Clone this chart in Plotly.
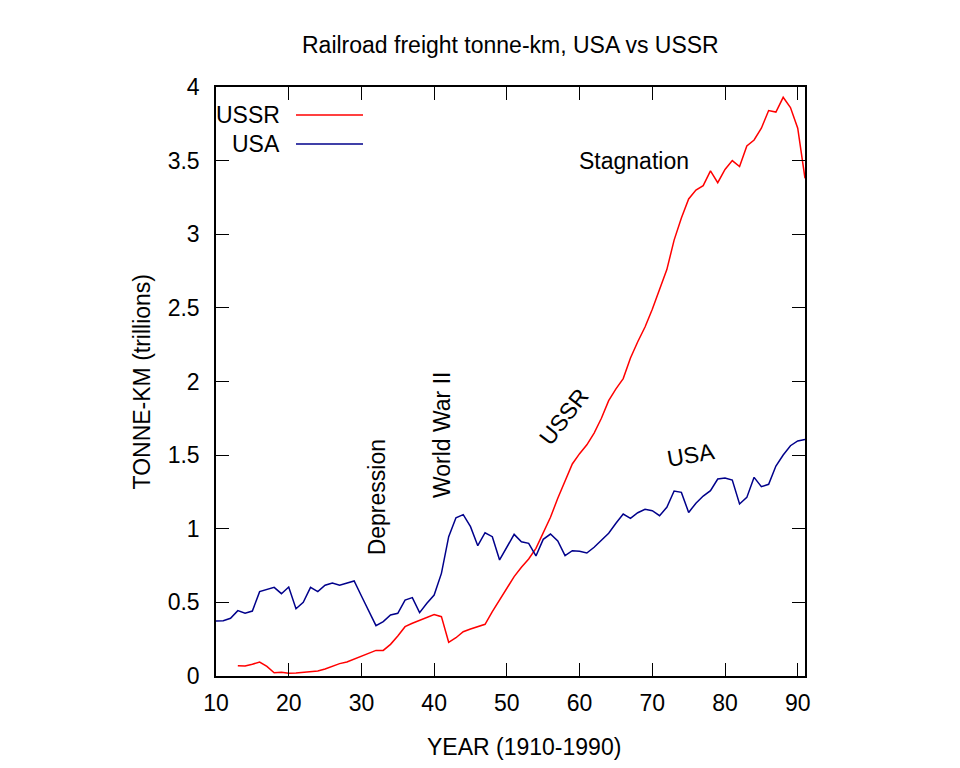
import plotly.graph_objects as go

# Years are given as two-digit offsets from 1900
usa_years = list(range(10, 92))
usa_values = [
    0.374, 0.376, 0.392, 0.444, 0.426, 0.441, 0.573, 0.589, 0.602, 0.559,
    0.604, 0.457, 0.500, 0.602, 0.573, 0.616, 0.632, 0.616, 0.632, 0.645,
    0.543, 0.444, 0.342, 0.369, 0.414, 0.426, 0.516, 0.532, 0.430, 0.494,
    0.550, 0.697, 0.946, 1.075, 1.096, 1.014, 0.885, 0.973, 0.946, 0.788,
    0.878, 0.962, 0.912, 0.901, 0.815, 0.928, 0.964, 0.917, 0.817, 0.851,
    0.847, 0.835, 0.874, 0.919, 0.969, 1.037, 1.100, 1.071, 1.109, 1.132,
    1.123, 1.089, 1.146, 1.256, 1.247, 1.111, 1.173, 1.222, 1.259, 1.338,
    1.345, 1.331, 1.168, 1.213, 1.349, 1.286, 1.302, 1.426, 1.501, 1.564,
    1.596, 1.607,
]

ussr_years = list(range(13, 92))
ussr_values = [
    0.070, 0.068, 0.080, 0.095, 0.065, 0.022, 0.025, 0.018, 0.020, 0.023,
    0.027, 0.034, 0.048, 0.068, 0.084, 0.095, 0.115, 0.136, 0.156, 0.174,
    0.174, 0.215, 0.272, 0.335, 0.358, 0.376, 0.396, 0.417, 0.403, 0.229,
    0.260, 0.301, 0.319, 0.335, 0.351, 0.437, 0.516, 0.600, 0.675, 0.738,
    0.795, 0.867, 0.973, 1.078, 1.207, 1.320, 1.440, 1.510, 1.570, 1.650,
    1.750, 1.870, 1.950, 2.020, 2.160, 2.270, 2.370, 2.490, 2.630, 2.760,
    2.960, 3.110, 3.240, 3.300, 3.330, 3.430, 3.350, 3.440, 3.500, 3.460,
    3.600, 3.640, 3.720, 3.840, 3.830, 3.930, 3.860, 3.720, 3.380,
]

x_ticks = [10, 20, 30, 40, 50, 60, 70, 80, 90]
y_ticks = [0, 0.5, 1, 1.5, 2, 2.5, 3, 3.5, 4]
y_tick_labels = ["0", "0.5", "1", "1.5", "2", "2.5", "3", "3.5", "4"]

RED = "#ff0000"
BLUE = "#00008b"
FONT = "Liberation Sans, Arial, sans-serif"
FS = 23

fig = go.Figure()
fig.add_trace(go.Scatter(x=ussr_years, y=ussr_values, mode="lines",
                         line=dict(color=RED, width=1.5), name="USSR"))
fig.add_trace(go.Scatter(x=usa_years, y=usa_values, mode="lines",
                         line=dict(color=BLUE, width=1.5), name="USA"))

axis_common = dict(
    showgrid=False, zeroline=False, showline=True, linecolor="black",
    linewidth=1.5, mirror="allticks", ticks="inside", ticklen=13,
    tickwidth=1.2, tickcolor="black",
    tickfont=dict(family=FONT, size=FS, color="black"),
)

fig.update_xaxes(range=[10, 91], tickvals=x_ticks,
                 ticktext=[str(t) for t in x_ticks],
                 ticklabelstandoff=6, **axis_common)
fig.update_yaxes(range=[0, 4], tickvals=y_ticks, ticktext=y_tick_labels,
                 ticklabelstandoff=10, **axis_common)

def ann(text, x, y, **kw):
    d = dict(text=text, x=x, y=y, showarrow=False, xanchor="center",
             yanchor="middle", font=dict(size=FS))
    d.update(kw)
    return d

annotations = [
    ann("Railroad freight tonne-km, USA vs USSR", 0.5, 1, xref="paper", yref="paper", yshift=42),
    ann("YEAR (1910-1990)", 0.5, 0, xref="paper", yref="paper", yshift=-71, xshift=13),
    ann("TONNE-KM (trillions)", 0, 0.5, xref="paper", yref="paper", xshift=-75, textangle=-90),
    ann("Stagnation", 67.55, 3.497),
    ann("USSR", 57.8, 1.759, textangle=-52),
    ann("USA", 75.3, 1.50, textangle=-10),
    ann("World War II", 41.1, 1.637, textangle=-90),
    ann("Depression", 32.2, 1.216, textangle=-90),
    # legend texts
    ann("USSR", 0.112, 0.9525, xref="paper", yref="paper", xanchor="right"),
    ann("USA", 0.112, 0.9032, xref="paper", yref="paper", xanchor="right"),
]

shapes = [
    dict(type="line", xref="paper", yref="paper", x0=0.1358, x1=0.2496,
         y0=0.9525, y1=0.9525, line=dict(color=RED, width=1.5)),
    dict(type="line", xref="paper", yref="paper", x0=0.1358, x1=0.2496,
         y0=0.9032, y1=0.9032, line=dict(color=BLUE, width=1.5)),
]

fig.update_layout(
    width=960, height=768,
    margin=dict(l=208, r=163, t=79, b=100),
    paper_bgcolor="white", plot_bgcolor="white",
    font=dict(family=FONT, size=FS, color="black"),
    showlegend=False,
    annotations=annotations,
    shapes=shapes,
)

fig.write_html("out.html")
